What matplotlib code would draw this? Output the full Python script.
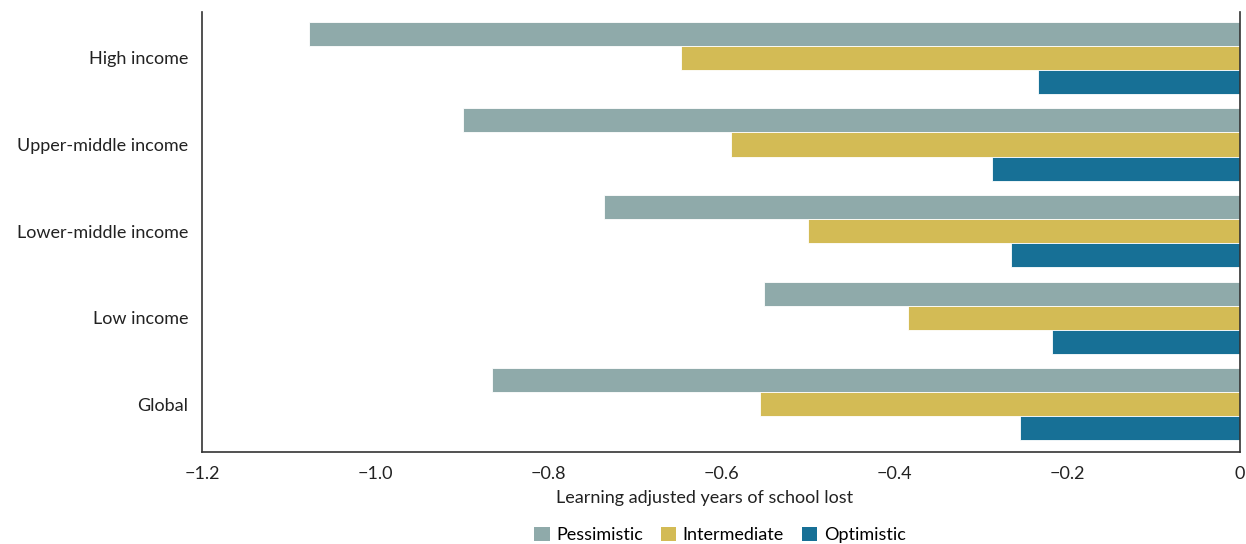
import matplotlib
matplotlib.use("Agg")
import matplotlib.pyplot as plt
from matplotlib.patches import Patch
import numpy as np

plt.rcParams['font.family'] = ['Lato', 'DejaVu Sans']

categories = ["High income", "Upper-middle income", "Lower-middle income", "Low income", "Global"]
series_names = ["Pessimistic", "Intermediate", "Optimistic"]
pessimistic = [-1.076, -0.898, -0.735, -0.550, -0.865]
intermediate = [-0.646, -0.588, -0.499, -0.384, -0.555]
optimistic = [-0.234, -0.287, -0.265, -0.217, -0.254]
colors = ["#8FAAAA", "#D3BB55", "#177096"]
xticks = [-1.2, -1.0, -0.8, -0.6, -0.4, -0.2, 0]
xticklabels = ["\u22121.2", "\u22121.0", "\u22120.8", "\u22120.6", "\u22120.4", "\u22120.2", "0"]

fig = plt.figure(figsize=(12.46, 5.44), dpi=100)
ax = fig.add_axes([202/1246, 1-452/544, (1240-202)/1246, (452-12)/544])

n = len(categories)
ypos = np.arange(n)[::-1].astype(float)
h = 0.278
for i, (vals, c) in enumerate(zip([pessimistic, intermediate, optimistic], colors)):
    ax.barh(ypos + (1 - i) * h, vals, height=h, color=c, edgecolor="white", linewidth=0.6,
            label=series_names[i])

ax.set_xlim(-1.2, 0)
ax.set_ylim(-0.55, 4.53)
ax.set_yticks(ypos)
ax.set_yticklabels(categories)
ax.set_xticks(xticks)
ax.set_xticklabels(xticklabels)
ax.tick_params(length=0, labelsize=13, colors="#222222")
ax.tick_params(axis='x', pad=10)
ax.tick_params(axis='y', pad=10)
for s in ["left", "bottom", "right"]:
    ax.spines[s].set_color("#333333")
    ax.spines[s].set_linewidth(1.2)
ax.spines["top"].set_visible(False)
ax.set_xlabel("Learning adjusted years of school lost", fontsize=13, color="#222222", labelpad=8)
ax.xaxis.set_label_coords((705-202)/(1240-202), -(498-452)/440 + 0.0, transform=ax.transAxes)
ax.xaxis.label.set_va("center")

handles = [Patch(facecolor=c, edgecolor="none") for c in colors]
fig.legend(handles, series_names, loc="center", bbox_to_anchor=(720/1246, 1-535/544), ncol=3,
           frameon=False, fontsize=13, handlelength=0.85, handleheight=0.85, handletextpad=0.35,
           columnspacing=1.0)

fig.savefig("out.png", dpi=100)
